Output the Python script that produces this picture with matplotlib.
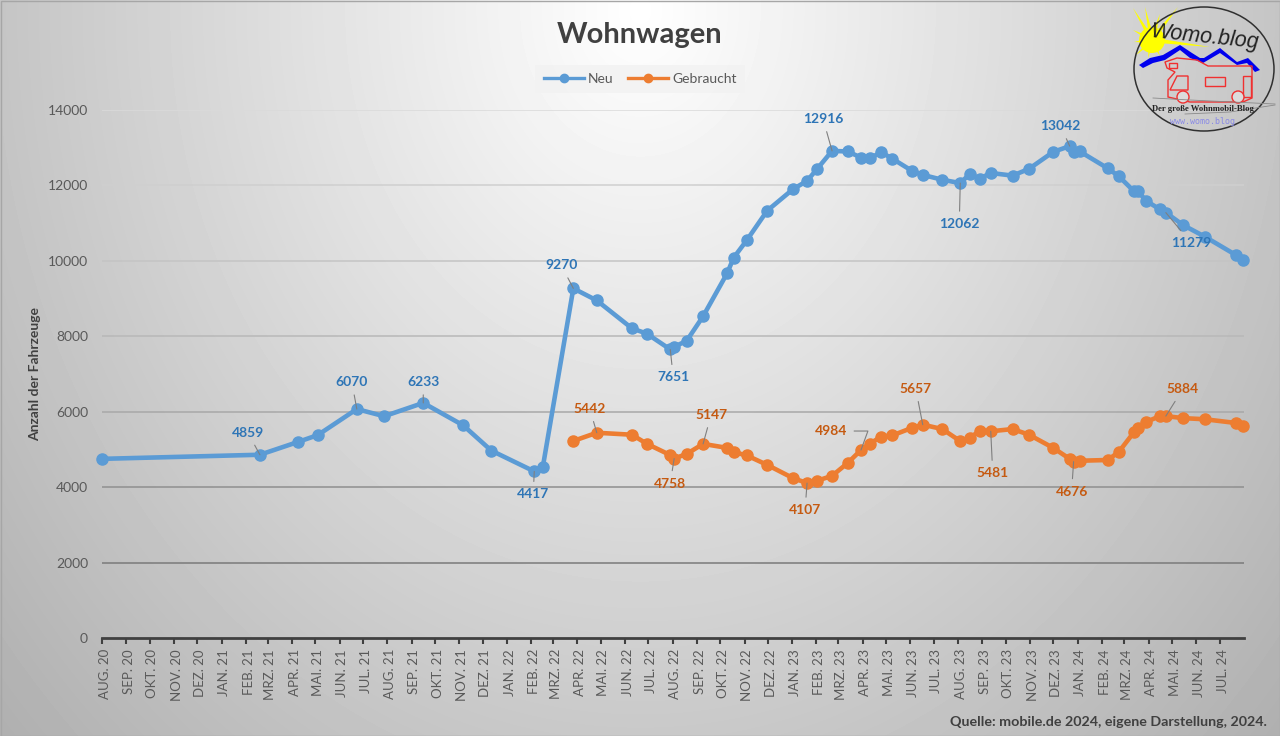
import datetime as dt
import numpy as np
import pandas as pd
import matplotlib
matplotlib.use("Agg")
import matplotlib.pyplot as plt
from matplotlib.patches import Circle, Ellipse, Polygon, Rectangle
from matplotlib.transforms import ScaledTranslation

plt.rcParams['font.family'] = ['Lato', 'DejaVu Sans']

# days since 1 Aug 2020, both series share the dates from Apr 22 on
tage_neu = [0, 202, 251, 276, 326, 361, 411, 462, 498, 553, 564, 603, 633, 678, 697, 727,
            732, 748, 769, 800, 808, 825, 851, 884, 902, 915, 934, 954, 971, 982, 997, 1011,
            1036, 1050, 1075, 1098, 1110, 1123, 1137, 1165, 1186, 1217, 1238, 1243, 1251,
            1287, 1301, 1320, 1325, 1336, 1353, 1361, 1383, 1411, 1451, 1460]
neu = [4750, 4859, 5200, 5380, 6070, 5880, 6233, 5640, 4970, 4417, 4540, 9270, 8950, 8210,
       8070, 7651, 7720, 7880, 8530, 9680, 10080, 10550, 11330, 11900, 12120, 12440, 12916,
       12900, 12740, 12720, 12880, 12710, 12390, 12280, 12150, 12062, 12300, 12180, 12330,
       12260, 12440, 12890, 13042, 12880, 12900, 12450, 12240, 11850, 11850, 11590, 11370,
       11279, 10950, 10640, 10150, 10020]
tage_gebraucht = tage_neu[11:]
gebraucht = [5225, 5442, 5390, 5150, 4850, 4758, 4880, 5147, 5040, 4930, 4840, 4590, 4240,
             4107, 4170, 4300, 4640, 4984, 5150, 5340, 5370, 5570, 5657, 5540, 5220, 5310,
             5490, 5481, 5540, 5390, 5040, 4750, 4676, 4700, 4720, 4940, 5450, 5560, 5730,
             5880, 5884, 5830, 5800, 5700, 5630]

monate = ['AUG.', 'SEP.', 'OKT.', 'NOV.', 'DEZ.', 'JAN.', 'FEB.', 'MRZ.', 'APR.', 'MAI.', 'JUN.', 'JUL.']
y_ticks = [2000, 4000, 6000, 8000, 10000, 12000, 14000]
grid_farben = ['#7a7a7a', '#8f8f8f', '#a8a8a8', '#b8b8b8', '#c4c4c4', '#cfcfcf', '#dadada']

# index into series, label offset from the point in pixels
labels_neu = {1: (-12, 22), 4: (-5, 27), 6: (0, 21), 9: (-1, -23), 11: (-12, 23), 15: (3, -28),
              26: (-9, 32), 35: (-1, -41), 42: (-9, 20), 51: (25, -30)}
labels_gebraucht = {1: (-7, 24), 5: (-4, -25), 7: (8, 29), 13: (-2, -27), 17: (-30, 19),
                    22: (-7, 36), 27: (2, -42), 32: (-2, -30), 40: (17, 27)}

BLAU, ORANGE = '#5B9BD5', '#ED7D31'
BLAU_TEXT, ORANGE_TEXT = '#2E75B6', '#C55A11'
TEXT = '#595959'
DUNKEL = '#404040'
ROT = '#f03030'
W, H = 1280, 736


def to_dates(tage):
    return [dt.date(2020, 8, 1) + dt.timedelta(days=d) for d in tage]


def label_points(ax, tage, werte, labels, farbe):
    for i, (dx, dy) in labels.items():
        # 4984 has a bent leader in the original
        stil = 'angle,angleA=0,angleB=70,rad=0' if werte[i] == 4984 else 'arc3'
        ax.annotate(str(werte[i]), xy=(to_dates(tage)[i], werte[i]), xytext=(dx, dy),
                    textcoords='offset pixels', ha='center', va='center', color=farbe,
                    fontsize=10, fontweight='bold', zorder=6,
                    arrowprops=dict(arrowstyle='-', color='#7f7f7f', lw=0.8, shrinkA=3, shrinkB=0,
                                    connectionstyle=stil))


def draw_logo(fig):
    la = fig.add_axes([0, 0, 1, 1], zorder=10)
    la.set_xlim(0, W)
    la.set_ylim(H, 0)
    la.axis('off')
    la.patch.set_alpha(0)
    # sun
    sx, sy = 1152, 40
    strahlen = [(1133, 8), (1145, 7), (1160, 14), (1178, 7), (1133, 30), (1134, 42), (1136, 55),
                (1148, 58), (1160, 56), (1210, 47)]
    for ex, ey in strahlen:
        a = np.arctan2(ey - sy, ex - sx)
        nx, ny = -np.sin(a) * 2.5, np.cos(a) * 2.5
        la.add_patch(Polygon([(sx + nx, sy + ny), (ex, ey), (sx - nx, sy - ny)], color='#ffff00', lw=0))
    la.add_patch(Circle((sx, sy), 13, color='#ffff00', lw=0))
    la.add_patch(Ellipse((1204, 69), 140, 124, fc='none', ec='#303030', lw=1.1))
    # mountains
    la.add_patch(Polygon([(1139, 65), (1150, 58), (1163, 55), (1180, 45), (1192, 53), (1200, 58),
                          (1204, 58), (1220, 48), (1237, 62), (1248, 58), (1260, 70), (1255, 72),
                          (1247, 63), (1237, 65), (1220, 53), (1203, 63), (1190, 58), (1180, 50),
                          (1165, 60), (1153, 63), (1143, 68)], color='#0000ee', lw=0))
    # camper
    la.add_patch(Polygon([(1168, 97), (1168, 80), (1175, 72), (1167, 68), (1165, 62), (1177, 58),
                          (1197, 60), (1208, 66), (1252, 66), (1252, 98), (1243, 102), (1190, 102)],
                         fc='none', ec=ROT, lw=1))
    la.add_patch(Rectangle((1205, 77), 20, 9, fc='none', ec=ROT, lw=1))
    la.add_patch(Rectangle((1243, 76), 8, 21, fc='none', ec=ROT, lw=1))
    la.add_patch(Polygon([(1170, 90), (1177, 76), (1188, 76), (1188, 90)], fc='none', ec=ROT, lw=1))
    la.add_patch(Rectangle((1169, 63), 8, 5, fc='none', ec=ROT, lw=1))
    la.add_patch(Circle((1183, 97), 6, fc='#dcdcdc', ec=ROT, lw=1))
    la.add_patch(Circle((1238, 97), 6, fc='#dcdcdc', ec=ROT, lw=1))
    la.plot([1153, 1190, 1275], [98, 100, 104], color='#8a8a8a', lw=0.6)
    la.plot([1185, 1230, 1275], [114, 112, 105], color='#8a8a8a', lw=0.6)
    la.text(1204, 37, 'Womo.blog', family='Liberation Sans', style='italic',
            fontsize=15.5, rotation=-6, ha='center', va='center', color='#222222')
    la.text(1203, 109, 'Der große Wohnmobil-Blog', family='Liberation Serif', fontweight='bold',
            fontsize=6.2, ha='center', va='center', color='#222222')
    la.text(1203, 121, 'www.womo.blog', family='DejaVu Sans Mono', fontsize=6, ha='center',
            va='center', color='#8a8ae6')


fig = plt.figure(figsize=(W / 100, H / 100), dpi=100)

# background: white at top centre, grey towards the edges
bg = fig.add_axes([0, 0, 1, 1], zorder=0)
yy, xx = np.mgrid[0:H, 0:W]
d = np.sqrt(((xx - 640) / 700) ** 2 + ((yy - 10) / 850) ** 2)
bg.imshow(np.clip(1.0 - 0.25 * d, 0, 1), cmap='gray', vmin=0, vmax=1, aspect='auto')
bg.axis('off')
bg.add_patch(Rectangle((0, 0), W - 1, H - 1, fc='none', ec='#a6a6a6', lw=1))

ax = fig.add_axes([102 / W, 1 - 638 / H, (1244 - 102) / W, (638 - 110) / H], zorder=1)
ax.patch.set_alpha(0)

ax.plot(to_dates(tage_neu), neu, color=BLAU, lw=3.3, marker='o', ms=8, label='Neu', zorder=4, clip_on=False)
ax.plot(to_dates(tage_gebraucht), gebraucht, color=ORANGE, lw=3.3, marker='o', ms=8, label='Gebraucht',
        zorder=4, clip_on=False)

ax.set_xlim(dt.date(2020, 8, 1), dt.date(2024, 8, 1))
ax.set_ylim(0, 14000)

ticks = pd.date_range('2020-08-01', '2024-07-01', freq='MS')
ax.set_xticks(ticks)
ax.set_xticklabels([f"{monate[(t.month - 8) % 12]} {t.year % 100}" for t in ticks], rotation=90,
                   fontsize=9.5, color=TEXT)
ax.set_yticks([0] + y_ticks)
ax.tick_params(axis='y', length=0, labelsize=10, labelcolor=TEXT, pad=10)
ax.tick_params(axis='x', length=4, width=1.5, color=DUNKEL, pad=4)
# tick_params resets the label transform, so shift the labels afterwards
versatz = ScaledTranslation(2 / 72, 0, fig.dpi_scale_trans)
for lab in ax.get_xticklabels():
    lab.set_transform(lab.get_transform() + versatz)
for wert, farbe in zip(y_ticks, grid_farben):
    ax.axhline(wert, color=farbe, lw=1.1, zorder=1)
for s in ['top', 'right', 'left']:
    ax.spines[s].set_visible(False)
ax.spines['bottom'].set_color(DUNKEL)
ax.spines['bottom'].set_linewidth(2)

label_points(ax, tage_neu, neu, labels_neu, BLAU_TEXT)
label_points(ax, tage_gebraucht, gebraucht, labels_gebraucht, ORANGE_TEXT)

leg = ax.legend(loc='center', bbox_to_anchor=((640 - 102) / (1244 - 102), (638 - 79) / (638 - 110)),
                ncol=2, frameon=True, fontsize=10, handlelength=2.9, columnspacing=1.1, handletextpad=0.25,
                borderpad=0.6, fancybox=False, framealpha=0.8, edgecolor='none', labelcolor=TEXT)
leg.get_frame().set_facecolor('#f2f2f2')
for h in leg.legend_handles:
    h.set_linewidth(2.4)
    h.set_markersize(6)

fig.text(640 / W, 1 - 35 / H, 'Wohnwagen', ha='center', va='center', fontsize=21, fontweight='bold', color=DUNKEL, zorder=5)
fig.text(35 / W, 1 - 374 / H, 'Anzahl der Fahrzeuge', rotation=90, ha='center', va='center',
         fontsize=10, fontweight='bold', color=DUNKEL, zorder=5)
fig.text(1267 / W, 1 - 722 / H, 'Quelle: mobile.de 2024, eigene Darstellung, 2024.', ha='right', va='center',
         fontsize=10.3, fontweight='bold', color=DUNKEL, zorder=5)

draw_logo(fig)

fig.savefig('out.png', dpi=100)
